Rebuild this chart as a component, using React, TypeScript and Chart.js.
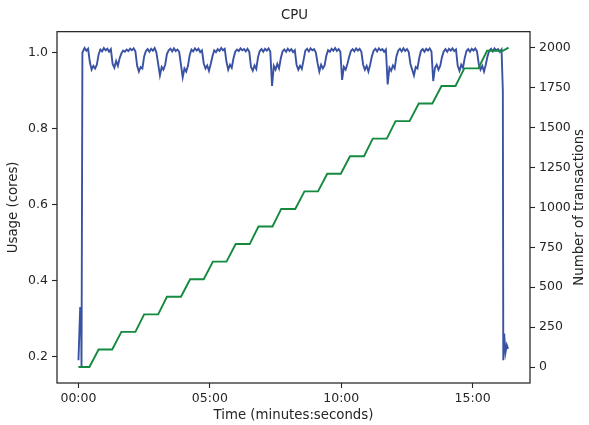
import React, { useEffect, useRef } from "react";
import { Chart, registerables } from "chart.js";

Chart.register(...registerables);

const TITLE = "CPU";
const X_TITLE = "Time (minutes:seconds)";
const LEFT_TITLE = "Usage (cores)";
const RIGHT_TITLE = "Number of transactions";

const X_TICKS = [0, 300, 600, 900];
const LEFT_TICKS = [0.2, 0.4, 0.6, 0.8, 1.0];
const RIGHT_TICKS = [0, 250, 500, 750, 1000, 1250, 1500, 1750, 2000];

// CPU usage: start-up samples (seconds, cores)
const cpuStartTimes = [0, 2, 4, 5, 6, 7, 9];
const cpuStartValues = [0.19, 0.26, 0.33, 0.3, 0.31, 0.17, 1.0];

// CPU usage: regular samples every 4 s starting at 10 s
const CPU_T0 = 10;
const CPU_DT = 4;
const cpuValues = [
  1.0, 1.012, 1.005, 1.01, 0.975, 0.955, 0.965, 0.958, 0.968, 0.995,
  1.008, 1.003, 1.012, 1.006, 1.01, 1.002, 1.009, 0.97, 0.96, 0.978,
  0.965, 0.985, 0.998, 1.005, 1.002, 1.008, 1.004, 1.01, 1.006, 1.011,
  1.003, 0.965, 0.95, 0.962, 0.958, 0.99, 1.004, 1.009, 1.002, 1.01,
  1.005, 1.012, 1.0, 0.97, 0.94, 0.962, 0.955, 0.968, 0.996, 1.006,
  1.01, 1.003, 1.011, 1.004, 1.008, 1.002, 0.968, 0.935, 0.958, 0.95,
  0.965, 0.993, 1.008, 1.003, 1.011, 1.005, 1.01, 1.001, 1.006, 0.972,
  0.958, 0.966, 0.952, 0.97, 0.99, 1.006, 1.001, 1.009, 1.004, 1.012,
  1.006, 1.01, 0.975, 0.955, 0.968, 0.96, 0.985, 1.002, 1.008, 1.004,
  1.011, 1.006, 1.009, 1.003, 1.01, 1.002, 0.962, 0.952, 0.966, 0.957,
  0.988, 1.004, 1.009, 1.002, 1.01, 1.005, 1.011, 1.003, 0.912, 0.965,
  0.955, 0.97, 0.958, 0.985, 1.003, 1.008, 1.002, 1.01, 1.004, 1.009,
  1.001, 1.006, 0.968, 0.955, 0.965, 0.957, 0.98, 1.005, 1.01, 1.003,
  1.011, 1.006, 1.009, 1.0, 0.972, 0.95, 0.968, 0.958, 0.966, 0.992,
  1.006, 1.002, 1.01, 1.005, 1.012, 1.004, 1.009, 1.002, 0.928, 0.962,
  0.955, 0.97, 0.988, 1.004, 1.009, 1.003, 1.011, 1.005, 1.01, 1.002,
  0.968, 0.955, 0.965, 0.95, 0.968, 0.99, 1.005, 1.01, 1.003, 1.011,
  1.006, 1.009, 1.002, 1.008, 0.916, 0.96, 0.952, 0.966, 0.958, 0.99,
  1.005, 1.01, 1.003, 1.011, 1.004, 1.009, 1.002, 0.97, 0.955, 0.94,
  0.962, 0.958, 0.985, 1.004, 1.009, 1.002, 1.01, 1.005, 1.011, 1.003,
  0.925, 0.96, 0.968, 0.955, 0.965, 0.988, 1.003, 1.009, 1.002, 1.01,
  1.005, 1.011, 1.004, 1.008, 0.965, 0.952, 0.968, 0.96, 0.986, 1.004,
  1.009, 1.002, 1.01, 1.005, 1.011, 1.003, 0.97, 0.955, 0.965, 0.95,
  0.968, 0.99, 1.005, 1.01, 1.003, 1.011, 1.006, 1.009, 1.002, 1.008,
];

// CPU usage: shutdown samples
const cpuEndTimes = [969, 970, 972, 975, 978, 981];
const cpuEndValues = [0.9, 0.19, 0.26, 0.21, 0.23, 0.22];

// Transactions (cumulative)
const txTimes = [
  0, 25, 46, 77, 98, 130, 150, 182, 202, 234, 255, 286, 307, 338, 359, 391, 411,
  443, 463, 495, 516, 547, 568, 599, 620, 652, 672, 704, 724, 756, 777, 808, 829,
  861, 881, 913, 933, 969, 982,
];
const txValues = [
  0, 0, 110, 110, 220, 220, 330, 330, 440, 440, 550, 550, 660, 660, 770, 770, 880,
  880, 990, 990, 1100, 1100, 1210, 1210, 1320, 1320, 1430, 1430, 1540, 1540, 1650,
  1650, 1760, 1760, 1870, 1870, 1980, 1980, 2000,
];

const TEXT = "#262626";
const FONT = "DejaVu Sans";
const TICK_SIZE = 12.5;
const LABEL_SIZE = 13.3;

function fmtTime(v: number): string {
  const m = Math.floor(v / 60);
  const s = Math.round(v - m * 60);
  return String(m).padStart(2, "0") + ":" + String(s).padStart(2, "0");
}

export default function App() {
  const ref = useRef<HTMLCanvasElement | null>(null);

  useEffect(() => {
    document.body.style.margin = "0";
    const canvas = ref.current;
    if (!canvas) return;

    const cpuData = [
      ...cpuStartTimes.map((t, i) => ({ x: t, y: cpuStartValues[i] })),
      ...cpuValues.map((v, i) => ({ x: CPU_T0 + i * CPU_DT, y: v })),
      ...cpuEndTimes.map((t, i) => ({ x: t, y: cpuEndValues[i] })),
    ];
    const txData = txTimes.map((t, i) => ({ x: t, y: txValues[i] }));

    const framePlugin = {
      id: "frame",
      afterDatasetsDraw(chart: any) {
        const { ctx, chartArea } = chart;
        ctx.save();
        ctx.strokeStyle = TEXT;
        ctx.lineWidth = 1.25;
        ctx.strokeRect(chartArea.left, chartArea.top, chartArea.right - chartArea.left, chartArea.bottom - chartArea.top);
        ctx.restore();
      },
      afterDraw(chart: any) {
        const { ctx, chartArea } = chart;
        ctx.save();
        ctx.fillStyle = TEXT;
        ctx.font = `${LABEL_SIZE}px "${FONT}"`;
        ctx.textAlign = "center";
        ctx.textBaseline = "middle";
        ctx.translate(580, (chartArea.top + chartArea.bottom) / 2);
        ctx.rotate(-Math.PI / 2);
        ctx.fillText(RIGHT_TITLE, 0, 0);
        ctx.restore();
      },
    };

    const tickFont = { family: FONT, size: TICK_SIZE };
    const labelFont = { family: FONT, size: LABEL_SIZE };
    const gridCfg = { drawOnChartArea: false, drawTicks: true, tickLength: 5, tickWidth: 1.1, tickColor: TEXT, color: TEXT };

    const chart = new Chart(canvas, {
      type: "line",
      data: {
        datasets: [
          {
            label: "transactions",
            data: txData,
            yAxisID: "y1",
            borderColor: "#138a3e",
            borderWidth: 1.9,
            pointRadius: 0,
            tension: 0,
            order: 0,
          },
          {
            label: "cpu",
            data: cpuData,
            yAxisID: "y",
            borderColor: "#3a52a3",
            borderWidth: 1.9,
            pointRadius: 0,
            tension: 0,
            order: 1,
          },
        ],
      },
      options: {
        responsive: false,
        animation: false,
        layout: { padding: 0 },
        plugins: {
          legend: { display: false },
          tooltip: { enabled: false },
          title: {
            display: true,
            text: TITLE,
            color: TEXT,
            font: { family: FONT, size: LABEL_SIZE, weight: "normal" },
            padding: { top: 8, bottom: 7.7 },
          },
        },
        scales: {
          x: {
            type: "linear",
            min: -49,
            max: 1031,
            afterBuildTicks: (s: any) => {
              s.ticks = X_TICKS.map((v) => ({ value: v }));
            },
            afterFit: (s: any) => {
              s.height = 42;
              s.paddingLeft = 0;
              s.paddingRight = 0;
            },
            ticks: { callback: (v: any) => fmtTime(Number(v)), font: tickFont, color: TEXT, padding: 3, maxRotation: 0, autoSkip: false },
            grid: gridCfg,
            border: { display: false },
            title: { display: true, text: X_TITLE, color: TEXT, font: labelFont, padding: { top: 0, bottom: 1.5 } },
          },
          y: {
            type: "linear",
            position: "left",
            min: 0.13,
            max: 1.055,
            afterBuildTicks: (s: any) => {
              s.ticks = LEFT_TICKS.map((v) => ({ value: v }));
            },
            afterFit: (s: any) => {
              s.width = 57;
              s.paddingTop = 0;
              s.paddingBottom = 0;
            },
            ticks: { callback: (v: any) => Number(v).toFixed(1), font: tickFont, color: TEXT, padding: 4 },
            grid: gridCfg,
            border: { display: false },
            title: { display: true, text: LEFT_TITLE, color: TEXT, font: labelFont, padding: { top: 6, bottom: 0 } },
          },
          y1: {
            type: "linear",
            position: "right",
            min: -100,
            max: 2100,
            afterBuildTicks: (s: any) => {
              s.ticks = RIGHT_TICKS.map((v) => ({ value: v }));
            },
            afterFit: (s: any) => {
              s.width = 59;
              s.paddingTop = 0;
              s.paddingBottom = 0;
            },
            ticks: { callback: (v: any) => String(v), font: tickFont, color: TEXT, padding: 4 },
            grid: gridCfg,
            border: { display: false },
          },
        },
      },
      plugins: [framePlugin],
    } as any);

    return () => chart.destroy();
  }, []);

  return <canvas ref={ref} width={589} height={425} style={{ display: "block" }} />;
}
